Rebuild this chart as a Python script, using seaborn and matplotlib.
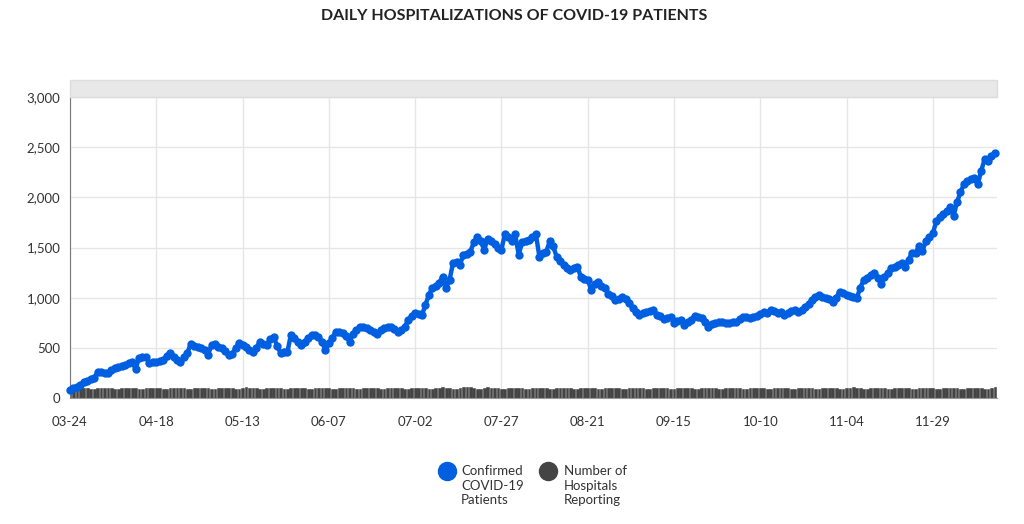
import matplotlib
matplotlib.use('Agg')
import matplotlib.pyplot as plt
import matplotlib.ticker as mticker
from matplotlib.lines import Line2D
from matplotlib.patches import Rectangle
import numpy as np
import pandas as pd
import seaborn as sns

# %%
'''Data'''

start_date = '2020-03-24'

patients = [
    80, 95, 110, 130, 160, 170, 185, 200, 260, 255,
    250, 250, 275, 300, 305, 320, 330, 345, 360, 290,
    400, 405, 410, 350, 360, 360, 365, 380, 420, 450,
    410, 380, 360, 410, 450, 540, 520, 510, 500, 480,
    430, 530, 540, 510, 500, 470, 430, 440, 500, 550,
    530, 510, 480, 460, 500, 560, 540, 530, 590, 610,
    520, 450, 455, 460, 630, 600, 560, 530, 560, 600,
    630, 625, 610, 560, 480, 550, 600, 660, 655, 650,
    620, 560, 640, 680, 710, 710, 700, 680, 660, 640,
    680, 700, 705, 710, 690, 660, 680, 710, 780, 820,
    850, 840, 830, 930, 1030, 1100, 1120, 1150, 1210, 1100,
    1180, 1350, 1360, 1330, 1430, 1440, 1460, 1550, 1600, 1560,
    1480, 1580, 1560, 1530, 1500, 1480, 1630, 1600, 1560, 1630,
    1430, 1550, 1560, 1570, 1600, 1630, 1410, 1450, 1460, 1560,
    1510, 1410, 1370, 1330, 1300, 1280, 1300, 1310, 1210, 1190,
    1180, 1080, 1140, 1160, 1120, 1100, 1040, 1020, 980, 990,
    1010, 990, 950, 900, 860, 830, 850, 860, 870, 880,
    830, 820, 790, 800, 810, 750, 770, 780, 730, 760,
    780, 820, 810, 800, 760, 710, 740, 750, 760, 760,
    750, 750, 755, 760, 790, 810, 810, 800, 810, 820,
    840, 860, 850, 880, 870, 850, 860, 830, 850, 870,
    880, 860, 880, 910, 940, 980, 1010, 1030, 1010, 1000,
    990, 960, 1000, 1060, 1050, 1030, 1020, 1010, 1000, 1100,
    1180, 1200, 1230, 1250, 1200, 1140, 1210, 1250, 1300, 1310,
    1330, 1350, 1310, 1380, 1450, 1450, 1510, 1470, 1560, 1600,
    1640, 1760, 1800, 1830, 1860, 1900, 1810, 1950, 2050, 2130,
    2160, 2180, 2190, 2130, 2260, 2380, 2360, 2410, 2440,
]

hospitals = [
    98, 100, 101, 101, 102, 100, 92, 91, 101, 102,
    102, 101, 100, 92, 90, 101, 102, 103, 102, 101,
    93, 91, 101, 102, 102, 103, 101, 92, 90, 102,
    103, 102, 102, 101, 93, 91, 102, 103, 104, 102,
    101, 92, 90, 103, 104, 103, 102, 101, 93, 92,
    104, 105, 104, 103, 102, 92, 91, 103, 104, 104,
    103, 102, 92, 90, 103, 104, 103, 102, 101, 93,
    91, 102, 103, 104, 103, 101, 92, 90, 102, 103,
    103, 102, 101, 92, 90, 102, 103, 103, 102, 101,
    93, 91, 102, 104, 103, 102, 101, 92, 90, 103,
    104, 103, 102, 101, 93, 91, 103, 104, 105, 104,
    103, 93, 92, 104, 105, 108, 106, 104, 94, 92,
    104, 105, 104, 103, 102, 93, 91, 103, 104, 104,
    103, 102, 92, 90, 102, 103, 103, 102, 101, 93,
    91, 102, 103, 103, 102, 101, 92, 90, 102, 103,
    103, 102, 101, 93, 91, 102, 103, 103, 102, 101,
    92, 90, 102, 103, 103, 102, 101, 93, 91, 102,
    103, 103, 102, 101, 92, 90, 102, 103, 103, 102,
    101, 93, 91, 102, 103, 103, 102, 101, 92, 90,
    102, 103, 104, 102, 101, 93, 91, 102, 103, 104,
    103, 101, 92, 90, 102, 103, 103, 102, 101, 93,
    91, 103, 104, 104, 103, 102, 92, 90, 103, 104,
    104, 103, 102, 93, 91, 103, 104, 105, 104, 102,
    92, 90, 103, 104, 104, 103, 102, 93, 91, 103,
    104, 104, 103, 102, 92, 90, 103, 104, 104, 103,
    102, 93, 91, 103, 104, 104, 103, 102, 92, 90,
    103, 104, 104, 103, 102, 93, 92, 104, 106,
]

tick_days = [0, 25, 50, 75, 100, 125, 150, 175, 200, 225, 250]
y_ticks = [0, 500, 1000, 1500, 2000, 2500, 3000]

legend_labels = ['Confirmed\nCOVID-19\nPatients', 'Number of\nHospitals\nReporting']

blue = '#005fe0'
grey = '#444444'

# %%
'''Plot'''

sns.set_style('white')
plt.rcParams['font.family'] = ['Lato', 'DejaVu Sans']

dates = pd.date_range(start_date, periods=len(patients))
df = pd.DataFrame({'day': np.arange(len(patients)),
                   'patients': patients,
                   'hospitals': hospitals})

fig = plt.figure(figsize=(10.24, 5.24), dpi=100)
ax = fig.add_axes([70 / 1024, 1 - 398 / 524, 927 / 1024, 301 / 524])

sns.barplot(data=df, x='day', y='hospitals', native_scale=True, color=grey,
            saturation=1, width=0.8, errorbar=None, linewidth=0.4,
            edgecolor=grey, ax=ax)
sns.lineplot(data=df, x='day', y='patients', color=blue, lw=3.2,
             marker='o', markersize=6, markeredgewidth=0, ax=ax)
for ln in ax.lines:
    ln.set_clip_on(False)
    ln.set_zorder(5)

ax.set_xlim(0, 268.6)
ax.set_ylim(0, 3000)
ax.set_xticks(tick_days)
ax.set_xticklabels([dates[d].strftime('%m-%d') for d in tick_days])
ax.set_yticks(y_ticks)
ax.yaxis.set_major_formatter(mticker.StrMethodFormatter('{x:,.0f}'))
ax.set_xlabel('')
ax.set_ylabel('')

ax.grid(True, color='#e6e6e6', lw=1)
ax.set_axisbelow(True)
sns.despine(ax=ax, top=True, right=True)
ax.spines['left'].set_color('#777777')
ax.spines['bottom'].set_color('#999999')
ax.tick_params(axis='x', length=5, color='#aaaaaa', pad=8, labelsize=9.5, labelcolor='#333333')
ax.tick_params(axis='y', length=5, color='#aaaaaa', pad=2, labelsize=9.5, labelcolor='#333333')

# grey band above the plot area
fig.add_artist(Rectangle((70 / 1024, 1 - 97 / 524), 927 / 1024, 17 / 524,
                         transform=fig.transFigure, fc='#e8e8e8', ec='#dddddd', lw=1))

fig.text(0.502, 1 - 16 / 524, 'DAILY HOSPITALIZATIONS OF COVID-19 PATIENTS',
         ha='center', va='center', fontsize=11.5, fontweight='bold', color='#222222')

# legend below
for cx, tx, col, lab in [(447, 461, blue, legend_labels[0]), (548, 564, grey, legend_labels[1])]:
    fig.add_artist(Line2D([cx / 1024], [1 - 471 / 524], marker='o', ls='',
                          color=col, markersize=13, transform=fig.transFigure))
    fig.text(tx / 1024, 1 - 465 / 524, lab, ha='left', va='top', fontsize=9.5,
             color='#333333', linespacing=1.25)

fig.savefig('out.png', dpi=100)
